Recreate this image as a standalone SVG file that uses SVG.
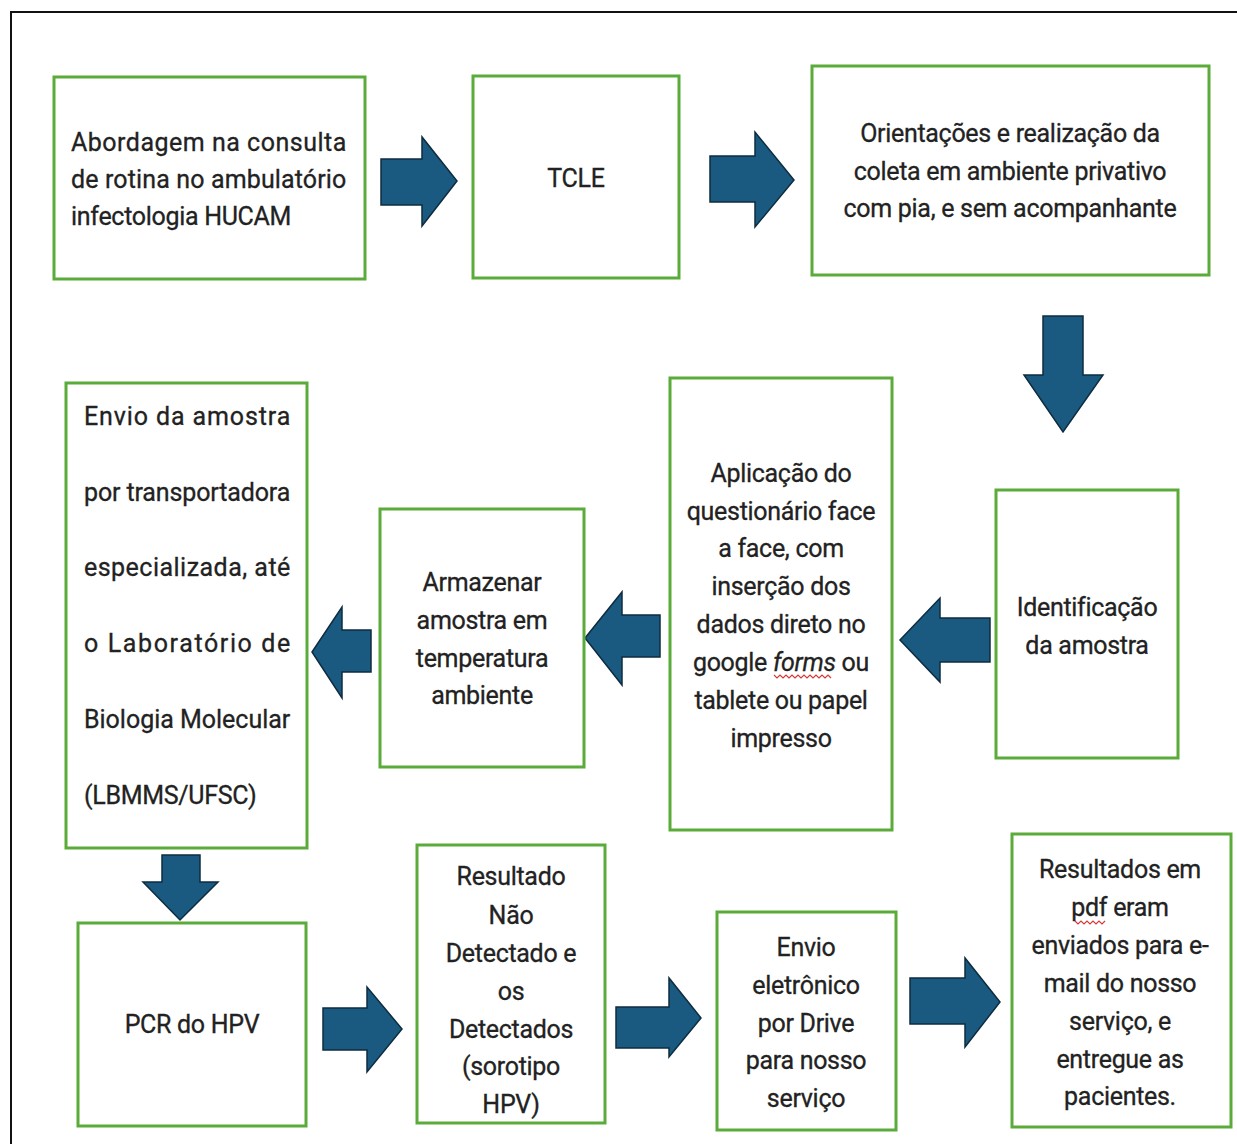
<svg xmlns="http://www.w3.org/2000/svg" width="1237" height="1144" viewBox="0 0 1237 1144">
<defs>
<style>
.box{fill:#ffffff;stroke:#5aab3a;stroke-width:3}
.arr{fill:#1a5a80;stroke:#0e2c3f;stroke-width:1.5;stroke-linejoin:miter}
.t{font-family:Roboto,"Noto Sans","Liberation Sans",sans-serif;font-size:25px;fill:#222222;stroke:#222222;stroke-width:0.3;letter-spacing:-0.3px}
.c{text-anchor:middle}
.sq{fill:none;stroke:#d23a3a;stroke-width:1.2}
</style>
</defs>
<rect x="0" y="0" width="1237" height="1144" fill="#ffffff"/>
<rect x="11" y="12" width="1240" height="1150" fill="none" stroke="#111111" stroke-width="2"/>

<g id="connectors">
<polygon class="arr" points="381,159 422,159 422,137 457,181 422,226 422,205 381,205"/>
<polygon class="arr" points="710,156 755,156 755,132 794,180 755,227 755,202 710,202"/>
<polygon class="arr" points="1043,316 1083,316 1083,375 1103,375 1063,432 1024,375 1043,375"/>
<polygon class="arr" points="990,618 940,618 940,598 900,640 940,682 940,662 990,662"/>
<polygon class="arr" points="660,615 622,615 622,592 585,638 622,685 622,657 660,657"/>
<polygon class="arr" points="371,630 342,630 342,607 312,652 342,698 342,672 371,672"/>
<polygon class="arr" points="162,855 200,855 200,882 218,882 180,920 143,882 162,882"/>
<polygon class="arr" points="323,1008 367,1008 367,987 402,1029 367,1072 367,1050 323,1050"/>
<polygon class="arr" points="616,1007 669,1007 669,978 701,1018 669,1057 669,1048 616,1048"/>
<polygon class="arr" points="910,978 965,978 965,958 1000,1002 965,1047 965,1024 910,1024"/>
</g>

<g id="n-abordagem">
<rect class="box" x="54" y="77" width="311" height="202"/>
<text class="t" x="71" y="151" textLength="275" lengthAdjust="spacing">Abordagem na consulta</text>
<text class="t" x="71" y="188" textLength="275" lengthAdjust="spacing">de rotina no ambulatório</text>
<text class="t" x="71" y="225">infectologia HUCAM</text>
</g>

<g id="n-tcle">
<rect class="box" x="473" y="76" width="206" height="202"/>
<text class="t c" x="576" y="187">TCLE</text>
</g>

<g id="n-orientacoes">
<rect class="box" x="812" y="66" width="397" height="209"/>
<text class="t c" x="1010" y="142">Orientações e realização da</text>
<text class="t c" x="1010" y="180">coleta em ambiente privativo</text>
<text class="t c" x="1010" y="217">com pia, e sem acompanhante</text>
</g>

<g id="n-identificacao">
<rect class="box" x="996" y="490" width="182" height="268"/>
<text class="t c" x="1087" y="616">Identificação</text>
<text class="t c" x="1087" y="654">da amostra</text>
</g>

<g id="n-aplicacao">
<rect class="box" x="670" y="378" width="222" height="452"/>
<text class="t c" x="781" y="482">Aplicação do</text>
<text class="t c" x="781" y="520">questionário face</text>
<text class="t c" x="781" y="557">a face, com</text>
<text class="t c" x="781" y="595">inserção dos</text>
<text class="t c" x="781" y="633">dados direto no</text>
<text class="t c" x="781" y="671">google <tspan font-style="italic">forms</tspan> ou</text>
<text class="t c" x="781" y="709">tablete ou papel</text>
<text class="t c" x="781" y="747">impresso</text>
<path class="sq" d="M774,675 l3,3 l3,-3 l3,3 l3,-3 l3,3 l3,-3 l3,3 l3,-3 l3,3 l3,-3 l3,3 l3,-3 l3,3 l3,-3 l3,3 l3,-3 l3,3 l3,-3 l3,3"/>
</g>

<g id="n-armazenar">
<rect class="box" x="380" y="509" width="204" height="258"/>
<text class="t c" x="482" y="591">Armazenar</text>
<text class="t c" x="482" y="629">amostra em</text>
<text class="t c" x="482" y="667">temperatura</text>
<text class="t c" x="482" y="704">ambiente</text>
</g>

<g id="n-envio">
<rect class="box" x="66" y="383" width="241" height="465"/>
<text class="t" x="84" y="425" textLength="206" lengthAdjust="spacing">Envio da amostra</text>
<text class="t" x="84" y="501" textLength="206" lengthAdjust="spacing">por transportadora</text>
<text class="t" x="84" y="576" textLength="206" lengthAdjust="spacing">especializada, até</text>
<text class="t" x="84" y="652" textLength="206" lengthAdjust="spacing">o Laboratório de</text>
<text class="t" x="84" y="728" textLength="206" lengthAdjust="spacing">Biologia Molecular</text>
<text class="t" x="84" y="804">(LBMMS/UFSC)</text>
</g>

<g id="n-pcr">
<rect class="box" x="78" y="923" width="228" height="203"/>
<text class="t c" x="192" y="1033">PCR do HPV</text>
</g>

<g id="n-resultado">
<rect class="box" x="417" y="845" width="188" height="278"/>
<text class="t c" x="511" y="885">Resultado</text>
<text class="t c" x="511" y="924">Não</text>
<text class="t c" x="511" y="962">Detectado e</text>
<text class="t c" x="511" y="1000">os</text>
<text class="t c" x="511" y="1038">Detectados</text>
<text class="t c" x="511" y="1075">(sorotipo</text>
<text class="t c" x="511" y="1113">HPV)</text>
</g>

<g id="n-envio-eletronico">
<rect class="box" x="717" y="912" width="179" height="218"/>
<text class="t c" x="806" y="956">Envio</text>
<text class="t c" x="806" y="994">eletrônico</text>
<text class="t c" x="806" y="1032">por Drive</text>
<text class="t c" x="806" y="1069">para nosso</text>
<text class="t c" x="806" y="1107">serviço</text>
</g>

<g id="n-resultados-pdf">
<rect class="box" x="1012" y="834" width="219" height="293"/>
<text class="t c" x="1120" y="878">Resultados em</text>
<text class="t c" x="1120" y="916">pdf eram</text>
<text class="t c" x="1120" y="954">enviados para e-</text>
<text class="t c" x="1120" y="992">mail do nosso</text>
<text class="t c" x="1120" y="1030">serviço, e</text>
<text class="t c" x="1120" y="1068">entregue as</text>
<text class="t c" x="1120" y="1105">pacientes.</text>
<path class="sq" d="M1075,921 l3,3 l3,-3 l3,3 l3,-3 l3,3 l3,-3 l3,3 l3,-3 l3,3 l3,-3"/>
</g>
</svg>
